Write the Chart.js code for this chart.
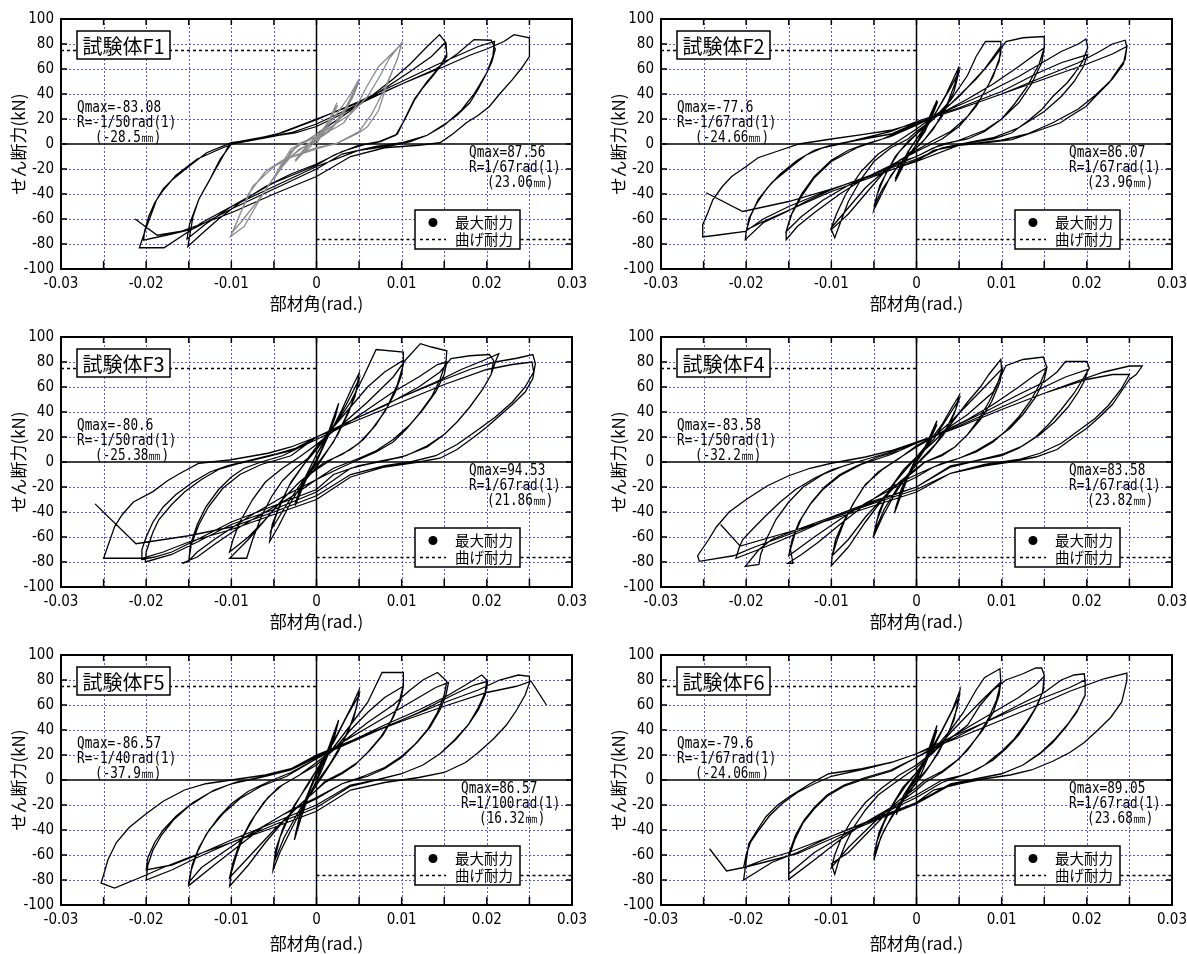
<!DOCTYPE html>
<html>
<head>
<meta charset="utf-8">
<script src="https://cdn.jsdelivr.net/npm/chart.js@4.4.1/dist/chart.umd.min.js"></script>
<style>
  body { margin: 0; background: #fff; width: 1187px; height: 954px; position: relative; overflow: hidden; }
  canvas { position: absolute; }
</style>
</head>
<body>
<script>
// hysteresis paths: [drift (1/1000 rad), shear (kN)]

const f1Grey = [
  [0,0],[1,12],[2.4,33],[2,26],[1,14],[0,6],[-1,-2],[-2.5,-14],[-2,-10],[-1,-4],[0,3],[1,12],[2.5,31],[1.5,18],[0,5],[-1.3,-3],[-2.5,-13],[-1.2,-2],[0,6],
  [1.5,16],[3,30],[4,40],[5,52],[4.5,44],[3.5,30],[2,14],[0.5,6],[-1,0],[-3,-10],[-4.5,-22],[-5,-28],[-4,-18],[-3,-6],[-2,-1],[0,6],[2,15],[4,35],[5,50],[4.3,38],[3,22],[1.5,10],[0,3],[-2,-4],[-4,-16],[-5,-27],[-4.2,-17],[-3,-4],[-1,3],[0,8],
  [2,15],[4,24],[6,38],[7.5,55],[8.5,68],[10,81],[9.6,70],[8.2,46],[7.3,27],[6,14],[5,9],[2.3,0],[0,-3],[-2.5,-9],[-5,-18],[-7.5,-34],[-8.9,-55],[-10.1,-74],[-8.5,-66],[-6.2,-39],[-3.9,-15],[-2.2,0],[0,6],[2,12],[3.2,17],[5,34],[5.9,46],[7.3,62],[10,80],[9.5,68],[8,44],[6.5,24],[5,10],[2.5,1],[0,-4],[-4,-13],[-6,-22],[-8,-40],[-9.8,-70],[-8.8,-62],[-6.5,-42],[-4.5,-22],[-2.5,-3],[0,8]
];

const f1Black = [
  [0,8],[3,22],[6,36],[9,52],[11,64],[13,78],[14.45,87.5],[15.2,81],[15.3,70],[14.5,62],[13.6,54],[12.5,45],[11.5,35],[10.4,20],[9.3,7],[7.5,2],[5.9,0],[3,-6],[0,-16],[-3,-24],[-6,-34],[-9,-47],[-11.5,-60],[-13.5,-72],[-15.1,-82],[-14.8,-70],[-14.5,-58],[-13.8,-44],[-12.8,-32],[-12,-22],[-11,-10],[-10.2,0],[-8,3],[-5.5,6],[-2.5,9],[0,14],
  [3,24],[7,40],[11,58],[13.5,70],[15.1,81],[15.3,72],[14.5,62],[13,50],[11.5,36],[10.5,22],[9.5,8],[7,1],[5,-1],[2,-9],[0,-17],[-5,-31],[-10,-50],[-13,-64],[-15.2,-76],[-14.9,-64],[-13.8,-44],[-12.5,-28],[-11.3,-12],[-10,0],[-6,5],[-3,9],[0,16],
  [5,32],[10,48],[14,60],[16.5,72],[18.5,83.5],[20.5,83],[21,76],[20.6,66],[20,57],[19,44],[18,33],[16.5,23],[15.3,17],[13,7],[11,2],[9,-1],[5,-5],[0,-18],[-5,-34],[-10,-50],[-13.5,-63],[-15,-70],[-17.9,-83],[-20.8,-83],[-20.5,-77],[-20,-67],[-19.5,-58],[-18.8,-45],[-18,-36],[-17,-29],[-15,-18],[-12.9,-7],[-10,1],[-7.5,3.5],[-4,9],[0,19.5],
  [5,34],[10,50],[14,63],[17,72],[19,78],[20.9,82],[20.7,70],[20,57],[18.5,40],[17,27],[15,15],[13,7],[10,1],[7,-2],[3,-8],[0,-20],[-5,-36],[-10,-52],[-14.5,-68],[-17,-72],[-20.3,-77],[-20.2,-70],[-19.7,-58],[-19,-47],[-18,-37],[-16.5,-25],[-14,-12],[-11,-3],[-9,2],[-5,7],[0,20],
  [5,33],[10,48],[15,62],[18,71],[20,76],[22,82],[23.2,87.5],[25,85],[25,70],[24,60],[23,51.5],[21.5,40],[20.3,30],[19,23],[17.6,17],[16,8],[14.5,1],[12,-1],[8,-3],[4,-10],[0,-26],[-5,-40],[-10,-55],[-13.5,-64],[-16,-70],[-18.7,-73],[-21.3,-60]
];

const f2Path = [
  [0,0],[1,14],[2.4,35],[2,26],[1,10],[0,0],[-1,-10],[-2.5,-30],[-2,-20],[-1,-6],[0,4],[1,14],[2.5,34],[1.6,18],[0,0],[-1.2,-12],[-2.5,-28],[-1.5,-12],[0,4],
  [2,22],[3.5,40],[5,62],[4.5,48],[3.5,30],[2,12],[0.5,0],[-1,-8],[-3,-25],[-5,-52.5],[-4.6,-40],[-3.5,-22],[-2,-6],[0,8],[2,22],[4,45],[5,58],[4.4,42],[3,22],[1,4],[0,-3],[-2,-16],[-4,-36],[-5,-50],[-4.3,-33],[-2.5,-10],[-1,2],[0,8],
  [2,20],[4,35],[6,55],[7,70],[8.1,82],[9.9,82],[9.9,72],[9,54],[7.5,36],[6,22],[4,10],[2,3],[0,-5],[-2,-13],[-4,-24],[-6,-40],[-8,-56],[-10,-68.5],[-9.6,-75],[-9,-64],[-8,-46],[-6.5,-28],[-5,-14],[-3,-3],[-1,4],[0,10],[2,20],[5,38],[8,60],[9.9,78],[9.7,66],[8.5,48],[7,30],[5,14],[3,4],[0,-6],[-3,-17],[-6,-35],[-8.5,-55],[-10,-67],[-9.4,-56],[-8.3,-40],[-6.5,-22],[-4.5,-8],[-2,3],[0,12],
  [4,32],[7,52],[9,68],[10.5,82],[12.5,85],[15,86],[15,77],[14.4,64],[13,46],[11.5,32],[10,20],[8,10],[6,4],[3,0],[0,-10],[-3,-17],[-6,-27],[-9,-40],[-12,-55],[-14,-66],[-15.3,-76.5],[-15.3,-70],[-14.6,-55],[-13.5,-40],[-12,-26],[-10,-13],[-8,-5],[-6,0],[-3,6],[0,15],
  [3,25],[6,36],[9,48],[12,62],[14,72],[15,77],[14.7,65],[13.5,48],[12,33],[10,20],[8,11],[5,3],[2,-3],[0,-10],[-4,-21],[-8,-33],[-11,-45],[-13.5,-58],[-15.3,-70],[-14.8,-58],[-13.5,-42],[-12,-27],[-10,-14],[-7,-3],[-4,4],[0,16],
  [4,28],[8,40],[12,54],[15,66],[17,74],[19,80],[19.9,84],[20.1,77],[19.5,66],[18.5,56],[17.7,49],[16,38],[14.7,27.5],[13,18],[11.2,9],[9,4],[6,1],[3,-3],[0,-12],[-5,-24],[-10,-36.5],[-13,-46],[-15.5,-55],[-18,-63],[-20.1,-76.5],[-20,-70],[-19.5,-58],[-18.6,-44.5],[-17,-31],[-14.5,-17],[-13,-9],[-11,-3],[-9,0],[-6,5],[-3,10],[0,18],
  [5,29],[10,42],[14,56],[17,65],[20.1,71.5],[19.6,62],[18.5,50],[17,38],[15,26],[12,13],[9,5],[6,1],[3,-3],[0,-13],[-5,-26],[-10,-38],[-15,-53],[-18,-62],[-19.9,-68.5],[-19.7,-60],[-18.8,-48],[-17.5,-35],[-16,-24],[-14,-13],[-12,-5],[-10,-1],[-7,3],[-3,8],[0,17],
  [5,28],[10,40],[15,54],[19,65],[21.5,74],[23,80],[24.5,83],[24.7,78],[24.5,67.5],[23.5,58],[22.6,49],[21,38],[19.9,30],[18,22],[16.9,17],[14,10],[11.2,3.5],[8,1],[5,-1],[2,-5],[0,-14],[-5,-25],[-10,-36],[-15,-50],[-18,-60],[-20.1,-70],[-23.5,-73],[-25.1,-74.4],[-25.1,-64.5],[-24.5,-55],[-23.9,-44.5],[-22.8,-34],[-21.7,-26],[-20,-18],[-18.6,-11],[-16,-5],[-13.8,0],[-10,4],[-6.4,7.5],[-3,11],[0,17],
  [5,28],[10,40],[15,52],[20,64],[23,72],[24.7,78],[24.3,64],[23,52],[21,39],[19,28],[16,17],[13,8],[10,3],[5,-1],[0,-14],[-5,-25],[-10,-36],[-15,-46],[-20.4,-54],[-24.7,-39]
];

const f3Path = [
  [0,0],[1,16],[2.6,47],[2.2,36],[1.2,18],[0,2],[-1,-10],[-2.5,-35],[-2,-24],[-1,-8],[0,6],[1.3,22],[2.5,44],[1.6,24],[0,0],[-1.2,-14],[-2.5,-33],[-1.6,-16],[0,6],
  [1.5,22],[3,42],[4.2,60],[5,71],[4.7,58],[3.8,40],[2.5,22],[1,6],[0,-4],[-1.5,-16],[-3,-32],[-4.5,-52],[-5.5,-63.6],[-5.2,-50],[-4.3,-34],[-3,-16],[-1.5,-2],[0,10],[2,28],[3.5,46],[5,66],[4.5,52],[3.3,34],[2,16],[0.5,2],[-1.5,-14],[-3.5,-34],[-5.3,-54],[-4.6,-40],[-3.3,-20],[-1.5,-2],[0,10],
  [2,28],[4,48],[5.5,68],[7,90],[10.2,88],[10.2,78],[9.5,62],[8.3,44],[7,30],[5.5,18],[4,10],[2,3],[0,-6],[-2,-16],[-4,-30],[-6,-46],[-8,-62],[-10.2,-77],[-8.2,-77],[-7.5,-62],[-6.5,-44],[-5.3,-28],[-4,-15],[-2.5,-5],[-1,3],[0,12],[2,28],[4,44],[6,60],[8,72],[10.2,81.4],[10,70],[9.2,55],[8,40],[6.5,26],[5,15],[3,6],[1,0],[0,-5],[-2,-16],[-4,-30],[-6,-46],[-8,-60],[-10.2,-72],[-9.8,-62],[-9,-48],[-7.5,-30],[-6,-16],[-4,-5],[-2,4],[0,14],
  [3,30],[6,48],[9,68],[10.5,82],[12.2,94.7],[13.5,92],[15.3,89],[15.2,80],[14.5,66],[13.5,52],[12,38],[10.5,26],[9,16],[7,8],[5,2],[3,-4],[0,-14],[-3,-28],[-6,-40],[-9,-52],[-12,-66],[-14,-76],[-15.8,-81],[-15,-79.5],[-14.8,-66],[-14,-50],[-13,-36],[-11.5,-22],[-10,-12],[-8.5,-5],[-6.5,0],[-4,5],[0,18],
  [3,28],[6,42],[9,56],[12,68],[14.2,78],[15.3,80],[15,70],[14,56],[12.5,42],[11,30],[9,18],[7,9],[5,3],[2,-5],[0,-14],[-4,-28],[-8,-44],[-12,-62],[-14,-72],[-15,-79],[-14.7,-66],[-13.8,-50],[-12.7,-36],[-11,-21],[-9,-10],[-6.5,-2],[-3,5],[0,20],
  [4,33],[8,45],[12,60],[14.5,72],[15.8,82.7],[18,85],[20.3,86],[20.8,81],[20.5,70],[19.5,58],[18,44],[16.5,32],[15,22],[13,13],[10.5,5],[8,1],[5,-3],[2,-10],[0,-22],[-5,-35],[-10,-48],[-14,-62],[-17,-72],[-19,-76],[-20.6,-78],[-20.5,-70],[-20,-60],[-19.2,-48],[-18,-36],[-16.5,-26],[-14.5,-16],[-12.5,-8],[-10.5,-3],[-8,1],[-5,6],[-2,12],[0,20],
  [5,36],[10,52],[14,64],[17,74],[19.5,81],[21.4,86.7],[21,80],[20.5,70],[19.5,58],[18,44],[16.5,32],[15,22],[13,12],[10,4],[7,0],[4,-5],[0,-24],[-5,-38],[-10,-50],[-14,-64],[-17,-74],[-20.1,-80],[-20,-72],[-19.2,-56],[-18.5,-46],[-17,-34],[-15.5,-24],[-13.5,-14],[-11.5,-6],[-9,-1],[-6,4],[-3,9],[0,20],
  [5,36],[10,52],[15,66],[18,74],[21,80],[23.5,83],[25.4,86],[25.7,78.7],[25.4,66.8],[24.5,56],[23,46],[21.5,37],[20,28],[18.5,20],[16.5,10],[14.5,3],[12,0],[8,-4],[4,-12],[0,-30],[-5,-42],[-10,-54],[-15,-64],[-18,-72],[-20.5,-77],[-25,-77],[-23.7,-51.6],[-22.8,-42],[-21.5,-32],[-19.2,-23.7],[-17.5,-15],[-16,-9],[-13.8,-1],[-10.2,1.6],[-5.7,7],[-3,12],[0,20],
  [5,34],[10,48],[15,62],[20,74],[23,78],[25.3,80],[25.5,72],[24.5,60],[23,48],[21,36],[19,26],[16.5,14],[14,5],[11,0],[8,-3],[4,-10],[0,-27],[-5,-40],[-10,-52],[-15,-59],[-21.2,-65.4],[-26,-33.5]
];

const f4Path = [
  [0,0],[1,12],[2.4,33],[2,24],[1,10],[0,0],[-1,-12],[-2.6,-41],[-2,-28],[-1,-12],[0,2],[1,12],[2.4,30],[1.5,16],[0,0],[-1.3,-16],[-2.5,-38],[-1.8,-22],[0,4],
  [1.5,16],[3,30],[4,42],[5,53],[4.6,42],[3.6,28],[2.2,14],[0.5,2],[-1,-10],[-2.5,-25],[-4,-44],[-5.1,-60.5],[-4.6,-46],[-3.7,-30],[-2.5,-16],[-1,-4],[0,4],[2,18],[3.5,34],[5,50],[4.4,38],[3.2,22],[1.5,8],[0,-2],[-2,-18],[-3.8,-38],[-5,-57],[-4.4,-40],[-3.2,-22],[-1.5,-6],[0,4],
  [2,16],[4,30],[6,48],[7.5,60],[8.5,70],[9.9,82],[10,73],[9.5,62],[8.5,48],[7.3,34],[6,22],[4.5,12],[3,6],[1,0],[0,-5],[-2,-16],[-4,-30],[-6,-48],[-8,-68],[-10,-83],[-9.9,-75],[-9.3,-62],[-8.5,-48],[-7.5,-34],[-6.2,-20],[-4.5,-8],[-2.5,1],[0,12],[2,20],[4,32],[6,46],[8,60],[10.1,75],[9.8,64],[8.8,48],[7.5,34],[6,22],[4.5,12],[3,5],[1,0],[0,-6],[-3,-22],[-6,-44],[-8,-62],[-9.9,-75],[-9.5,-62],[-8.6,-48],[-7.3,-32],[-6,-18],[-4,-6],[-2,3],[0,13],
  [3,24],[6,38],[9,56],[10.5,77],[12.5,82],[14.9,84],[15.3,75.6],[14.6,64],[13.5,50],[12,36],[10.5,25],[9,16],[7,8],[5,3],[3,-1],[0,-10],[-3,-20],[-6,-34],[-9,-50],[-11.5,-64],[-13.5,-74],[-15.1,-81],[-14.5,-81],[-14.8,-70],[-14.3,-58],[-13.5,-45],[-12.3,-32],[-10.8,-20],[-9,-10],[-7,-3],[-4.5,4],[-2,9],[0,15],
  [3,24],[6,34],[9,46],[12,60],[14,70],[15.3,75.6],[15,66],[14,52],[12.5,38],[11,27],[9,17],[7,9],[5,3],[2,-4],[0,-12],[-3,-22],[-6,-33],[-9,-46],[-12,-60],[-14,-70],[-15,-75],[-14.6,-62],[-13.8,-48],[-12.5,-34],[-11,-22],[-9,-11],[-6.5,-2],[-3,6],[0,15],
  [4,27],[8,40],[12,54],[15,64],[16.5,72],[17.5,80.4],[20,80.4],[20.3,75],[19.5,66],[18.5,55],[17,42],[15.5,30],[14,20],[12,11],[10,5],[7,1],[4,-3],[0,-20],[-5,-31],[-10,-44],[-14,-54],[-17,-62],[-18.5,-70],[-20.1,-83.5],[-18.5,-82],[-18.3,-74],[-17.5,-60],[-16.5,-46],[-15,-32],[-13.3,-20],[-11,-10],[-8.5,-3],[-5.5,3],[-2.5,9],[0,15],
  [4,26],[8,38],[12,50],[15,60],[17.5,68],[20.1,74],[19.8,66],[19,56],[17.8,44],[16.2,32],[14.5,22],[12.5,13],[10,6],[7,1],[4,-4],[0,-20],[-5,-32],[-10,-45],[-15,-60],[-18.5,-70],[-21.2,-77],[-20.8,-68],[-20.4,-62],[-19,-52],[-17.7,-43],[-16,-32],[-14.2,-22],[-12,-13],[-9.9,-6],[-7,0],[-3.5,7],[0,15.4],
  [5,28],[10,42],[15,55],[19,65],[22,72],[25,76.8],[26.5,76.8],[25.8,70],[25,66],[24,56],[23,46],[21.5,36],[20,27],[18.5,20],[16.5,10],[14,4],[11,0],[8,-3],[4,-9],[0,-22],[-5,-33],[-10,-45],[-15,-58],[-19,-68],[-21.5,-75],[-25.5,-79.5],[-25.7,-75],[-25,-68],[-24.4,-62],[-23.5,-52],[-22,-40],[-20,-30],[-17.5,-19],[-15,-11],[-12.5,-5],[-10,-1],[-6,4],[-3,9],[0,16],
  [5,28],[10,42],[15,55],[20,66],[23,70],[25,70],[24,58],[22.5,45],[21,35],[19,25],[17,15],[14.5,7],[12,2],[8,-2],[4,-9],[0,-24],[-5,-35],[-10,-46],[-15,-56],[-20.7,-67.3],[-23,-50]
];

const f5Path = [
  [0,0],[1,18],[2.6,48],[2.1,34],[1.2,18],[0,4],[-1,-12],[-2.6,-48],[-2.1,-32],[-1.2,-14],[0,4],[1.2,20],[2.5,45],[1.7,26],[0.5,6],[-1,-14],[-2.5,-44],[-1.8,-24],[-0.6,-4],[0,6],
  [1.5,24],[3,44],[4.2,60],[5,72],[4.7,58],[3.8,40],[2.5,22],[1,6],[0,-4],[-1.5,-20],[-3,-40],[-4.3,-58],[-5.1,-72],[-4.8,-56],[-3.9,-38],[-2.6,-20],[-1,-4],[0,8],[2,30],[3.5,50],[5,68],[4.4,50],[3.2,32],[1.5,12],[0,-2],[-2,-24],[-3.8,-46],[-5,-66],[-4.3,-46],[-3,-26],[-1.3,-6],[0,8],
  [2,26],[4,44],[6,62],[7.7,86],[10.2,86],[10.2,76],[9.7,62],[8.8,48],[7.5,34],[6,22],[4.5,12],[3,5],[1,-2],[0,-8],[-2,-20],[-4,-34],[-6,-50],[-8,-68],[-10.2,-85],[-10,-74],[-9.3,-58],[-8.5,-44],[-7.2,-28],[-5.7,-14],[-4,-4],[-2,4],[0,12],[2,24],[4,40],[6,54],[8,66],[10.2,75],[9.9,64],[9,50],[7.8,36],[6.3,24],[4.8,14],[3,6],[1,-1],[0,-8],[-2,-20],[-5,-40],[-8,-62],[-10.2,-78],[-9.8,-66],[-9,-50],[-7.8,-34],[-6.2,-18],[-4.5,-6],[-2,4],[0,14],
  [3,30],[6,46],[9,60],[11,72],[12.5,80],[14.2,86],[15.3,79],[15,68],[14.2,54],[13,40],[11.5,28],[10,18],[8,9],[6,3],[3,-3],[0,-14],[-3,-24],[-6,-36],[-9,-52],[-12,-68],[-15,-84.5],[-14.7,-72],[-14,-58],[-13,-44],[-11.5,-30],[-10,-19],[-8,-9],[-5.5,-1],[-3,6],[0,17],
  [3,30],[6,42],[9,54],[12,66],[14,74],[15.5,78],[15.2,68],[14.5,56],[13.3,42],[11.8,30],[10,19],[8,10],[5.5,3],[3,-3],[0,-15],[-4,-28],[-8,-44],[-11,-58],[-13.5,-70],[-15,-82],[-14.6,-68],[-13.8,-54],[-12.6,-40],[-11,-27],[-9,-15],[-6.5,-5],[-3.5,3],[0,17],
  [4,31],[8,44],[12,56],[15,66],[17.5,76],[19.4,84],[20,80],[19.8,70],[19,58],[17.8,44],[16.3,32],[14.5,21],[12.5,12],[10,5],[7,0],[4,-4],[0,-20],[-5,-34],[-10,-48],[-14,-60],[-17,-68],[-20,-72],[-19.8,-62],[-19,-50],[-18,-40],[-16.5,-29],[-14.5,-18],[-12,-8],[-9.5,-2],[-6,3],[-3,8],[0,18],
  [4,30],[8,42],[12,54],[16,68],[18.5,76],[20.1,79],[19.8,68],[19,56],[17.8,44],[16.2,32],[14.5,21],[12.5,12],[10,5],[7,0],[4,-5],[0,-22],[-5,-36],[-10,-50],[-14,-62],[-17,-72],[-20,-80],[-19.8,-68],[-19.2,-56],[-18.2,-44],[-16.8,-32],[-15,-21],[-12.5,-10],[-10,-3],[-6,3],[-3,8],[0,19],
  [5,34],[10,48],[15,62],[19,72],[21.5,80],[23.7,84],[25,83],[25,77.6],[24.5,68],[23.5,56],[22.3,44],[20.8,33],[19,22],[17.5,14],[15,6],[12,2],[8,-2],[4,-8],[0,-25],[-5,-38],[-10,-50],[-15,-62],[-18,-70],[-20,-76],[-23.7,-86.4],[-25.3,-82.4],[-25,-76],[-24.5,-64],[-23.5,-50],[-22,-38],[-20,-27],[-18,-17],[-15.5,-8],[-13,-3],[-10,0],[-6,4],[-3,9],[0,20],
  [5,34],[10,47],[15,59],[20,70],[23.5,75],[25.2,79],[27,60]
];

const f6Path = [
  [0,0],[1,16],[2.4,43.7],[2,32],[1,14],[0,2],[-1,-8],[-2.4,-28],[-1.8,-18],[-0.8,-6],[0,4],[1.2,18],[2.4,40],[1.6,22],[0.5,4],[-1,-8],[-2.4,-26],[-1.5,-12],[0,4],
  [1.5,22],[3,40],[4.2,56],[5.1,71.7],[4.8,58],[3.9,40],[2.6,22],[1,6],[0,-2],[-1.5,-14],[-3,-30],[-4.2,-46],[-5,-64],[-4.7,-50],[-3.8,-34],[-2.6,-18],[-1.2,-4],[0,6],[2,26],[3.5,46],[5,66],[4.4,48],[3.2,30],[1.6,12],[0,-2],[-2,-20],[-3.8,-40],[-5,-60],[-4.4,-42],[-3.2,-24],[-1.6,-6],[0,6],
  [2,24],[4,40],[5.5,54],[7,72],[8,82],[9.8,89],[9.9,78],[9.4,64],[8.5,50],[7.3,36],[6,24],[4.5,14],[3,6],[1,-2],[0,-8],[-2,-18],[-4,-30],[-6,-44],[-8,-58],[-10,-67],[-9.6,-75.5],[-9.2,-66],[-8.4,-52],[-7.4,-38],[-6,-24],[-4.5,-12],[-2.5,-2],[0,10],[2,22],[4,38],[6,52],[8,66],[9.9,78.4],[9.7,68],[9,54],[7.8,40],[6.4,28],[5,17],[3,7],[1,0],[0,-6],[-2,-16],[-5,-34],[-8,-54],[-10,-70],[-9.6,-60],[-8.8,-46],[-7.6,-32],[-6,-18],[-4,-6],[-2,4],[0,12],
  [3,28],[6,44],[7.5,60],[9,72],[10.5,80],[12.5,85],[14,89.6],[14.7,89.6],[15,83.7],[14.9,72],[14.2,60],[13.2,48],[12,36],[10.5,25],[9,16],[7,8],[5,3],[3,0],[0,-12],[-3,-22],[-6,-34],[-9,-48],[-12,-64],[-15,-79.5],[-15,-70],[-15,-59],[-14.2,-44],[-13.2,-32],[-12,-22],[-10.5,-12],[-8.5,-4],[-6,2],[-3,8],[0,18],
  [3,30],[6,42],[9,54],[12,66],[14,76],[15,83],[14.8,70],[14,58],[12.8,45],[11.5,33],[10,23],[8,12],[6,5],[3,-2],[0,-14],[-4,-27],[-8,-42],[-12,-58],[-15,-75],[-15,-62],[-14.3,-48],[-13.3,-34],[-12,-23],[-10.5,-13],[-8.5,-5],[-6,1],[-3,7],[0,18],
  [4,32],[8,46],[12,60],[15,70],[17,80],[18.5,84],[19.7,85],[19.8,78],[19.8,67.7],[18.8,54],[17.5,42],[16,30],[14.5,21],[12.5,12],[10,5],[7,1],[4,-3],[0,-18],[-5,-31],[-10,-45],[-14,-58],[-17,-66],[-20.3,-80],[-20.1,-70],[-19.7,-51],[-18.7,-40],[-17.7,-29.6],[-16.3,-20],[-15,-13.6],[-12.5,-3],[-10.3,5],[-6.4,9],[-3,14],[0,21],
  [4,34],[8,46],[12,58],[15,66],[18,74],[19.8,80],[19.8,68],[19,57],[17.8,45],[16.3,33],[14.6,22],[12.5,12],[10,5],[7,1],[4,-4],[0,-19],[-5,-33],[-10,-47],[-14,-59],[-18,-66],[-20.3,-70],[-20,-60],[-19.5,-50],[-18.5,-40],[-17.3,-29],[-15.8,-19],[-14,-10],[-12,-3],[-10,3],[-6,9],[-3,14],[0,21],
  [5,34],[10,48],[15,62],[18,71],[20,76],[22,81],[24.7,85.6],[24.7,79.7],[24.1,62.4],[22.8,50],[21.3,40],[19.7,30],[18,22],[16,15],[13.5,8],[11,4],[8,1],[5,-3],[2,-8],[0,-18],[-5,-32],[-10,-45],[-15,-58],[-18,-64],[-20.3,-70],[-22.3,-72.8],[-24.3,-55]
];

const specimens = ['試験体F1', '試験体F2', '試験体F3', '試験体F4', '試験体F5', '試験体F6'];

const leftNotes = [
  ['Qmax=-83.08', 'R=-1/50rad(1)', '(-28.5㎜)'],
  ['Qmax=-77.6', 'R=-1/67rad(1)', '(-24.66㎜)'],
  ['Qmax=-80.6', 'R=-1/50rad(1)', '(-25.38㎜)'],
  ['Qmax=-83.58', 'R=-1/50rad(1)', '(-32.2㎜)'],
  ['Qmax=-86.57', 'R=-1/40rad(1)', '(-37.9㎜)'],
  ['Qmax=-79.6', 'R=-1/67rad(1)', '(-24.06㎜)']
];
const rightNotes = [
  ['Qmax=87.56', 'R=1/67rad(1)', '(23.06㎜)'],
  ['Qmax=86.07', 'R=1/67rad(1)', '(23.96㎜)'],
  ['Qmax=94.53', 'R=1/67rad(1)', '(21.86㎜)'],
  ['Qmax=83.58', 'R=1/67rad(1)', '(23.82㎜)'],
  ['Qmax=86.57', 'R=1/100rad(1)', '(16.32㎜)'],
  ['Qmax=89.05', 'R=1/67rad(1)', '(23.68㎜)']
];

const bendingCapacity = 75.6;   // kN
const legendLabels = ['最大耐力', '曲げ耐力'];
const xTitle = '部材角(rad.)';
const yTitle = 'せん断力(kN)';

const panelSeries = [
  [{path: f1Grey, color: '#8c8c8c'}, {path: f1Black, color: '#000'}],
  [{path: f2Path, color: '#000'}],
  [{path: f3Path, color: '#000'}],
  [{path: f4Path, color: '#000'}],
  [{path: f5Path, color: '#000'}],
  [{path: f6Path, color: '#000'}]
];

const CJK = '"Noto Sans CJK JP", sans-serif';
const NARROW = '"Liberation Sans Narrow", "DejaVu Sans Condensed", "Arial Narrow", sans-serif';
const MONO = '"DejaVu Sans Mono", "Liberation Mono", monospace';

function seg(ctx, x1, y1, x2, y2) {
  ctx.beginPath(); ctx.moveTo(x1, y1); ctx.lineTo(x2, y2); ctx.stroke();
}

function tallText(ctx, s, x, y) {
  ctx.save();
  ctx.translate(x, y);
  ctx.scale(1, 1.18);
  ctx.fillText(s, 0, 0);
  ctx.restore();
}

function yb2px(y) {
  return Math.round(y.getPixelForValue(-bendingCapacity)) + 0.5;
}

const decor = {
  id: 'decor',
  beforeDatasetsDraw(chart) {
    const {ctx, chartArea: a, scales: {x, y}} = chart;
    ctx.save();
    // dotted blue grid
    ctx.strokeStyle = '#5555ff';
    ctx.lineWidth = 1;
    ctx.setLineDash([2, 2]);
    for (let v = -25; v <= 25; v += 5) {
      if (v === 0) continue;
      const px = Math.round(x.getPixelForValue(v / 1000)) + 0.5;
      seg(ctx, px, a.top, px, a.bottom);
    }
    for (let v = -80; v <= 80; v += 20) {
      if (v === 0) continue;
      const py = Math.round(y.getPixelForValue(v)) + 0.5;
      seg(ctx, a.left, py, a.right, py);
    }
    // zero lines
    ctx.setLineDash([]);
    ctx.strokeStyle = '#000';
    ctx.lineWidth = 1.5;
    const x0 = x.getPixelForValue(0), y0 = y.getPixelForValue(0);
    seg(ctx, x0, a.top, x0, a.bottom);
    seg(ctx, a.left, y0, a.right, y0);
    // bending capacity
    ctx.setLineDash([3, 3]);
    const yb = Math.round(y.getPixelForValue(bendingCapacity)) + 0.5;
    seg(ctx, a.left, yb, x0, yb);
    seg(ctx, x0, yb2px(y), a.right, yb2px(y));
    ctx.restore();
  },
  afterDatasetsDraw(chart) {
    const {ctx, chartArea: a, scales: {x, y}} = chart;
    const i = chart.options.panelIndex;
    ctx.save();
    // frame and inward ticks
    ctx.strokeStyle = '#000';
    ctx.lineWidth = 2;
    ctx.strokeRect(a.left, a.top, a.right - a.left, a.bottom - a.top);
    ctx.lineWidth = 1.5;
    for (let v = -25; v <= 25; v += 5) {
      const px = x.getPixelForValue(v / 1000);
      seg(ctx, px, a.bottom, px, a.bottom - 8);
      seg(ctx, px, a.top, px, a.top + 6);
    }
    for (let v = -80; v <= 80; v += 20) {
      const py = y.getPixelForValue(v);
      seg(ctx, a.left, py, a.left + 6, py);
      seg(ctx, a.right, py, a.right - 6, py);
    }

    // specimen name box
    ctx.fillStyle = '#fff';
    ctx.lineWidth = 1.5;
    ctx.fillRect(a.left + 16, a.top + 12, 93, 28);
    ctx.strokeRect(a.left + 16, a.top + 12, 93, 28);
    ctx.fillStyle = '#000';
    ctx.font = '20px ' + CJK;
    ctx.textAlign = 'center';
    ctx.textBaseline = 'middle';
    ctx.fillText(specimens[i], a.left + 62.5, a.top + 27);

    // Qmax notes
    ctx.font = '12.7px ' + MONO;
    ctx.textAlign = 'left';
    const L = leftNotes[i], R = rightNotes[i];
    const lx = a.left + 16, rx = a.left + (i === 4 ? 400 : 408);
    tallText(ctx, L[0], lx, a.top + 89);
    tallText(ctx, L[1], lx, a.top + 104);
    tallText(ctx, L[2], lx + 18, a.top + 119);
    tallText(ctx, R[0], rx, a.top + 134);
    tallText(ctx, R[1], rx, a.top + 149);
    tallText(ctx, R[2], rx + 18, a.top + 164);

    // legend box
    const bx = a.left + 354, by = a.top + 191;
    ctx.fillStyle = '#fff';
    ctx.fillRect(bx, by, 105, 39);
    ctx.strokeRect(bx, by, 105, 39);
    ctx.fillStyle = '#000';
    ctx.beginPath();
    ctx.arc(bx + 18, by + 12.5, 4.5, 0, Math.PI * 2);
    ctx.fill();
    ctx.setLineDash([3, 3]);
    seg(ctx, bx + 5, yb2px(y), bx + 31, yb2px(y));
    ctx.setLineDash([]);
    ctx.font = '14.5px ' + CJK;
    ctx.fillText(legendLabels[0], bx + 40, by + 12.5);
    ctx.fillText(legendLabels[1], bx + 40, by + 29);
    ctx.restore();
  }
};

panelSeries.forEach((series, i) => {
  const col = i % 2, row = Math.floor(i / 2);
  const cv = document.createElement('canvas');
  cv.width = 600; cv.height = 318;
  cv.style.left = (col * 600) + 'px';
  cv.style.top = (row * 318) + 'px';
  document.body.appendChild(cv);

  new Chart(cv, {
    type: 'scatter',
    data: {
      datasets: series.map(s => ({
        data: s.path.map(p => ({x: p[0] / 1000, y: p[1]})),
        showLine: true,
        borderColor: s.color,
        borderWidth: 1.3,
        pointRadius: 0,
        fill: false
      }))
    },
    options: {
      panelIndex: i,
      responsive: false,
      animation: false,
      devicePixelRatio: 1,
      layout: {padding: {top: 19, right: 28, left: 0, bottom: 0}},
      plugins: {legend: {display: false}, tooltip: {enabled: false}},
      scales: {
        x: {
          type: 'linear', min: -0.03, max: 0.03,
          afterFit(s) { s.height = 49; },
          grid: {display: false, drawTicks: false},
          border: {display: false},
          ticks: {
            stepSize: 0.01, padding: 6, color: '#000', maxRotation: 0, autoSkip: false,
            font: {family: NARROW, size: 15},
            callback: v => Math.abs(v) < 1e-9 ? '0' : v.toFixed(2)
          },
          title: {display: true, text: xTitle, color: '#000', font: {family: CJK, size: 17},
                  padding: {top: 0, bottom: row === 2 ? 0 : 4}}
        },
        y: {
          min: -100, max: 100,
          afterFit(s) { s.width = 61; },
          grid: {display: false, drawTicks: false},
          border: {display: false},
          ticks: {stepSize: 20, padding: 7, color: '#000', font: {family: NARROW, size: 15}},
          title: {display: true, text: yTitle, color: '#000', font: {family: CJK, size: 17},
                  padding: {top: 8, bottom: 0}}
        }
      }
    },
    plugins: [decor]
  });
});
</script>
</body>
</html>
